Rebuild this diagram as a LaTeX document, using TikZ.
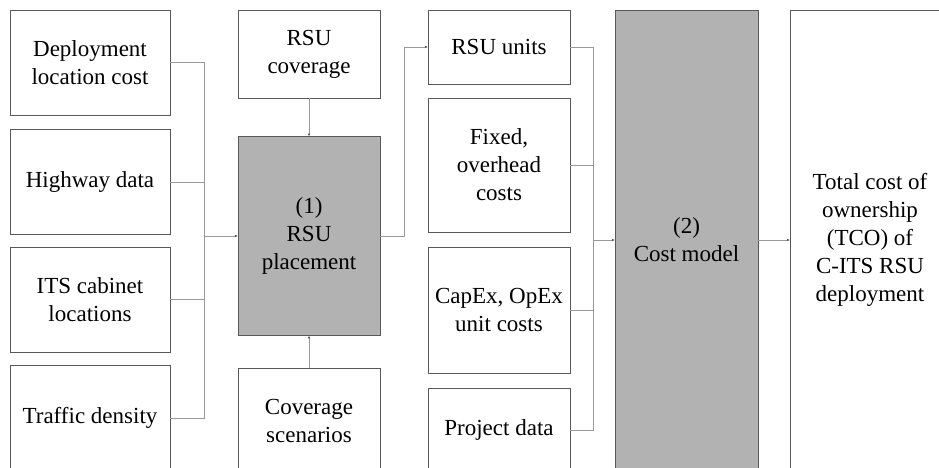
\documentclass[tikz,border=0pt]{standalone}
\usepackage{fontspec}
\setmainfont{Liberation Serif}
\usetikzlibrary{arrows.meta}
\tikzset{
  box/.style={draw=black!65, line width=0.7pt, fill=white, align=center, inner sep=2pt,
    font=\fontsize{23}{28}\selectfont},
  graybox/.style={box, fill=black!30},
  conn/.style={draw=black!40, line width=0.6pt},
  arr/.style={conn, -{Stealth[length=3pt,width=2.4pt,color=black!70]}}
}
\begin{document}
\begin{tikzpicture}[x=1pt,y=-1pt]
\useasboundingbox (0,0) rectangle (939,467);
\clip (0,0) rectangle (939,467);
% left column
\node[box, minimum width=160pt, minimum height=105pt] (A) at (90,62.5) {Deployment\\location cost};
\node[box, minimum width=160pt, minimum height=105pt] (B) at (90,182) {Highway data};
\node[box, minimum width=160pt, minimum height=105pt] (C) at (90,299.5) {ITS cabinet\\locations};
\node[box, minimum width=160pt, minimum height=106pt] (D) at (90,418) {Traffic density};
% second column
\node[box, minimum width=142pt, minimum height=88pt] (S) at (309,54) {RSU\\coverage};
\node[graybox, minimum width=142pt, minimum height=199pt] (P) at (309,236) {(1)\\RSU\\placement};
\node[box, minimum width=142pt, minimum height=106pt] (E) at (309,421) {Coverage\\scenarios};
% third column
\node[box, minimum width=142pt, minimum height=74pt] (U) at (499,47) {RSU units};
\node[box, minimum width=142pt, minimum height=134pt] (F) at (499,165) {Fixed,\\overhead\\costs};
\node[box, minimum width=142pt, minimum height=126pt] (K) at (499,310) {CapEx, OpEx\\unit costs};
\node[box, minimum width=142pt, minimum height=84pt] (G) at (499,430) {Project data};
% cost model and TCO
\node[graybox, minimum width=143pt, minimum height=460pt] (M) at (686.5,240) {(2)\\Cost model};
\node[box, minimum width=160pt, minimum height=460pt] (T) at (870,240) {Total cost of\\ownership\\(TCO) of\\C-ITS RSU\\deployment};
% junctions
\coordinate (j1) at (204,236);
\coordinate (j2) at (593,240);
% connectors left
\draw[conn] (A.east) -| (j1);
\draw[conn] (B.east) -| (j1);
\draw[conn] (C.east) -| (j1);
\draw[conn] (D.east) -| (j1);
\draw[arr] (j1) -- (P.west);
\draw[arr] (S.south) -- (P.north);
\draw[arr] (E.north) -- (P.south);
\draw[arr] (P.east) -- ++(24,0) |- (U.west);
% connectors right
\draw[conn] (U.east) -| (j2);
\draw[conn] (F.east) -| (j2);
\draw[conn] (K.east) -| (j2);
\draw[conn] (G.east) -| (j2);
\draw[arr] (j2) -- (M.west);
\draw[arr] (M.east) -- (T.west);
\end{tikzpicture}
\end{document}
